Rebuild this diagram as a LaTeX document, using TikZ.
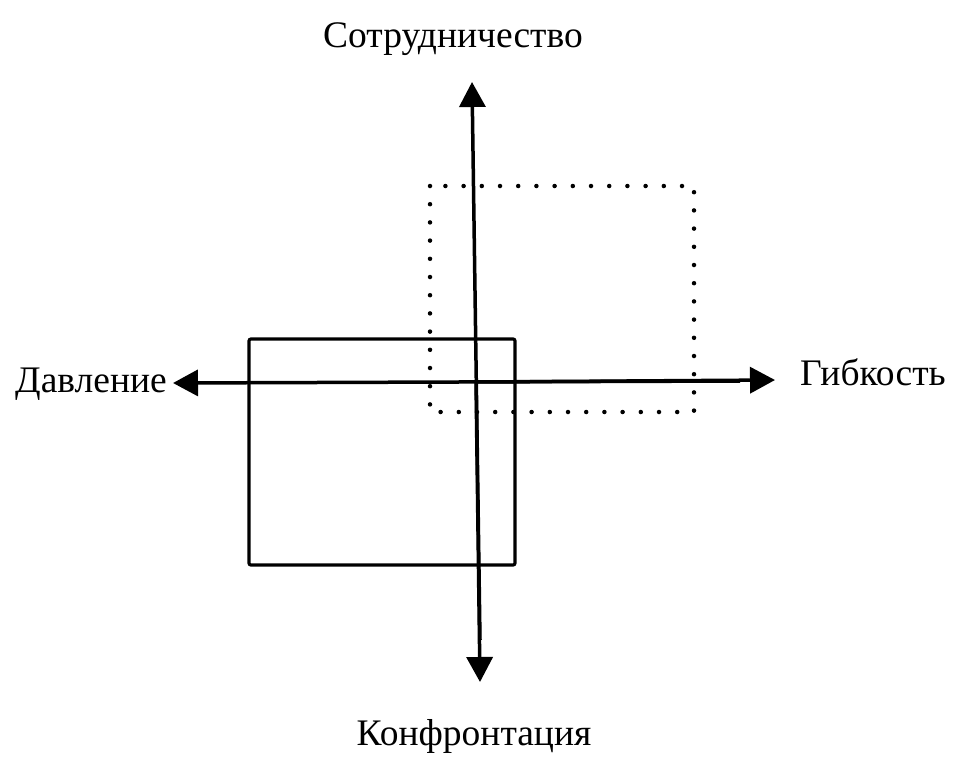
\documentclass[tikz,border=0pt]{standalone}
\usepackage{fontspec}
\setmainfont{Liberation Serif}
\usetikzlibrary{arrows.meta}
\begin{document}
\begin{tikzpicture}[x=1pt,y=-1pt,
  axis/.style={line width=3.5pt,-{Triangle[length=25pt,width=26pt]}},
  solidbox/.style={line width=3.2pt,rounded corners=2pt},
  dotbox/.style={line width=4.5pt,line cap=round,dash pattern=on 0pt off 18.2pt},
  lbl/.style={inner sep=0pt,anchor=base,font=\fontsize{37.5}{40}\selectfont}]
\useasboundingbox (0,0) rectangle (960,766);
\draw[solidbox] (249,339) rectangle (515,565);
\draw[dotbox] (430,186) rectangle (694,412);
\coordinate (cen) at (476,382);
\coordinate (top) at (472,82);
\coordinate (bot) at (480,682);
\coordinate (lft) at (173,383);
\coordinate (rgt) at (775,380);
\coordinate (vs) at (480,640);
\coordinate (hs) at (740,381);
\draw[axis] (vs) -- (top);
\draw[axis] (cen) -- (bot);
\draw[axis] (hs) -- (lft);
\draw[axis] (cen) -- (rgt);
\node[lbl] (sotr) at (453,47) {Сотрудничество};
\node[lbl] (konf) at (474,745) {Конфронтация};
\node[lbl,anchor=base west] (davl) at (15,392) {Давление};
\node[lbl,anchor=base west] (gibk) at (800,385) {Гибкость};
\end{tikzpicture}
\end{document}
